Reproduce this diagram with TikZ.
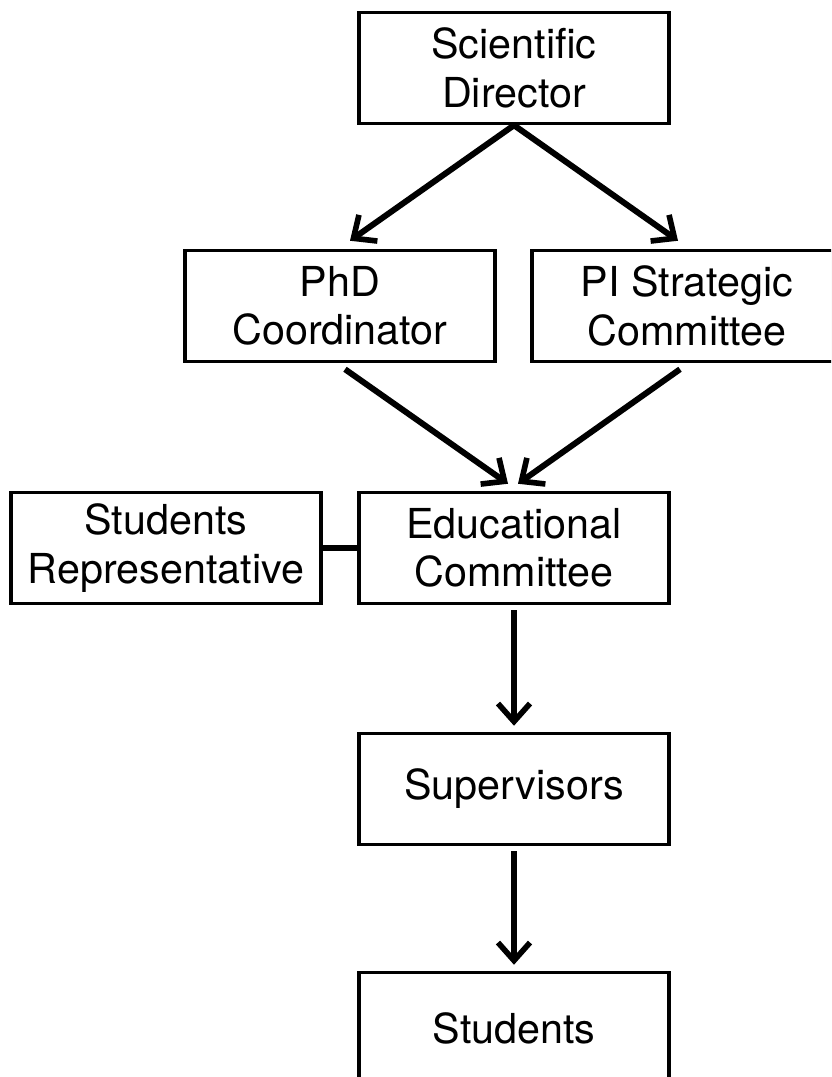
\documentclass[tikz,border=0pt]{standalone}
\usepackage{fontspec}
\setmainfont{TeX Gyre Heros}
\usetikzlibrary{arrows.meta}
\usetikzlibrary{calc}
\usetikzlibrary{shadows}

\begin{document}
\begin{tikzpicture}[x=0.02cm,y=-0.02cm,
  box/.style={draw,line width=2pt,fill=white,minimum width=6.2cm,minimum height=2.22cm,
    align=center,font=\fontsize{23.5}{27.5}\selectfont,
    drop shadow={shadow xshift=0.5pt,shadow yshift=-1pt,opacity=0.25}},
  link/.style={line width=3.4pt},
  >={Straight Barb[length=0.36cm,width=0.64cm,line width=3.2pt]}]
\useasboundingbox (0,0) rectangle (831,1077);
\clip (0,0) rectangle (831,1077);
\node[box] (sd) at (514,68) {Scientific\\Director};
\node[box] (phd) at (340,306) {PhD\\Coordinator};
\node[box] (pi) at (687,306) {PI Strategic\\Committee};
\node[box] (rep) at (166,548) {Students\\Representative};
\node[box] (edu) at (514,548) {Educational\\Committee};
\node[box] (sup) at (514,789) {Supervisors};
\node[box] (stu) at (514,1028) {Students};
\draw [link,->] (sd.south) -- ($(phd.north)+(10,-8)$) ;
\draw [link,->] (sd.south) -- ($(pi.north)+(-9,-8)$) ;
\draw [link,->] ($(phd.south)+(5,6)$) -- ($(edu.north)+(-6,-7)$) ;
\draw [link,->] ($(pi.south)+(-7,6)$) -- ($(edu.north)+(4,-7)$) ;
\draw [link] (rep.east) -- (edu.west) ;
\draw [link,->] ($(edu.south)+(0,5)$) -- ($(sup.north)+(0,-6)$) ;
\draw [link,->] ($(sup.south)+(0,5)$) -- ($(stu.north)+(0,-6)$) ;
\end{tikzpicture}
\end{document}
